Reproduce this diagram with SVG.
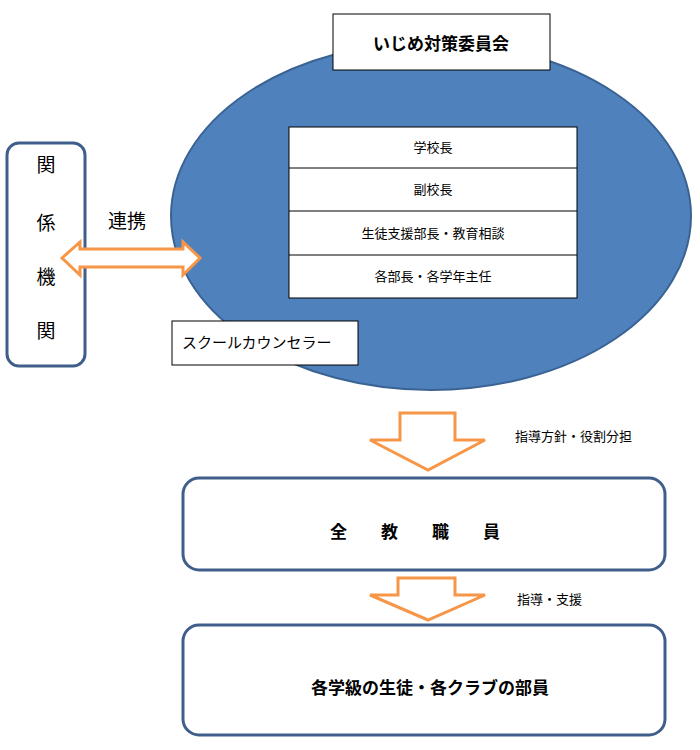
<svg xmlns="http://www.w3.org/2000/svg" width="700" height="750" viewBox="0 0 700 750">
<style>
text{font-family:"Noto Sans CJK JP","Noto Sans CJK SC",sans-serif;fill:#000}
.box{fill:#fff;stroke:#000;stroke-width:1}
.rbox{fill:#fff;stroke:#3f5f8a;stroke-width:3}
.arr{fill:#fff;stroke:#f79646;stroke-width:3;stroke-linejoin:miter}
.s{font-size:13px}
.b{font-weight:bold}
</style>
<rect width="700" height="750" fill="#fff"/>
<g id="committee">
<ellipse cx="431" cy="216" rx="260" ry="174" fill="#4f81bd" stroke="#3a6394" stroke-width="2"/>
<rect class="box" x="289" y="127" width="288" height="171"/>
<line x1="289" y1="168" x2="577" y2="168" stroke="#000"/>
<line x1="289" y1="211" x2="577" y2="211" stroke="#000"/>
<line x1="289" y1="255" x2="577" y2="255" stroke="#000"/>
<text class="s" x="433" y="152" text-anchor="middle">学校長</text>
<text class="s" x="433" y="194" text-anchor="middle">副校長</text>
<text class="s" x="433" y="238" text-anchor="middle">生徒支援部長・教育相談</text>
<text class="s" x="433" y="281" text-anchor="middle">各部長・各学年主任</text>
</g>
<g id="title">
<rect class="box" x="333" y="14" width="217" height="56"/>
<text x="441" y="50" font-size="17" class="b" text-anchor="middle">いじめ対策委員会</text>
</g>
<g id="counselor">
<rect class="box" x="172" y="321" width="186" height="44"/>
<text x="182" y="348" font-size="15">スクールカウンセラー</text>
</g>
<g id="agencies">
<rect class="rbox" x="7" y="143" width="78" height="223" rx="12"/>
<text font-size="19" x="46" y="172" text-anchor="middle">関</text>
<text font-size="19" x="46" y="230" text-anchor="middle">係</text>
<text font-size="19" x="46" y="284" text-anchor="middle">機</text>
<text font-size="19" x="46" y="338" text-anchor="middle">関</text>
</g>
<g id="staff">
<rect class="rbox" x="183" y="478" width="482" height="92" rx="16"/>
<text x="415" y="538" font-size="17" class="b" text-anchor="middle">全　　教　　職　　員</text>
</g>
<g id="students">
<rect class="rbox" x="183" y="625" width="482" height="110" rx="16"/>
<text x="430" y="694" font-size="17" class="b" text-anchor="middle">各学級の生徒・各クラブの部員</text>
</g>
<g id="connectors">
<polygon class="arr" points="62,258 80,242 80,249 183,249 183,242 200,258 183,275 183,267 80,267 80,275"/>
<text x="108" y="228" font-size="19">連携</text>
<polygon class="arr" points="400,413 455,413 455,440 485,440 428,470 370,440 400,440"/>
<text class="s" x="515" y="441">指導方針・役割分担</text>
<polygon class="arr" points="398,578 455,578 455,595 485,595 428,620 370,595 398,595"/>
<text class="s" x="517" y="604">指導・支援</text>
</g>
</svg>
